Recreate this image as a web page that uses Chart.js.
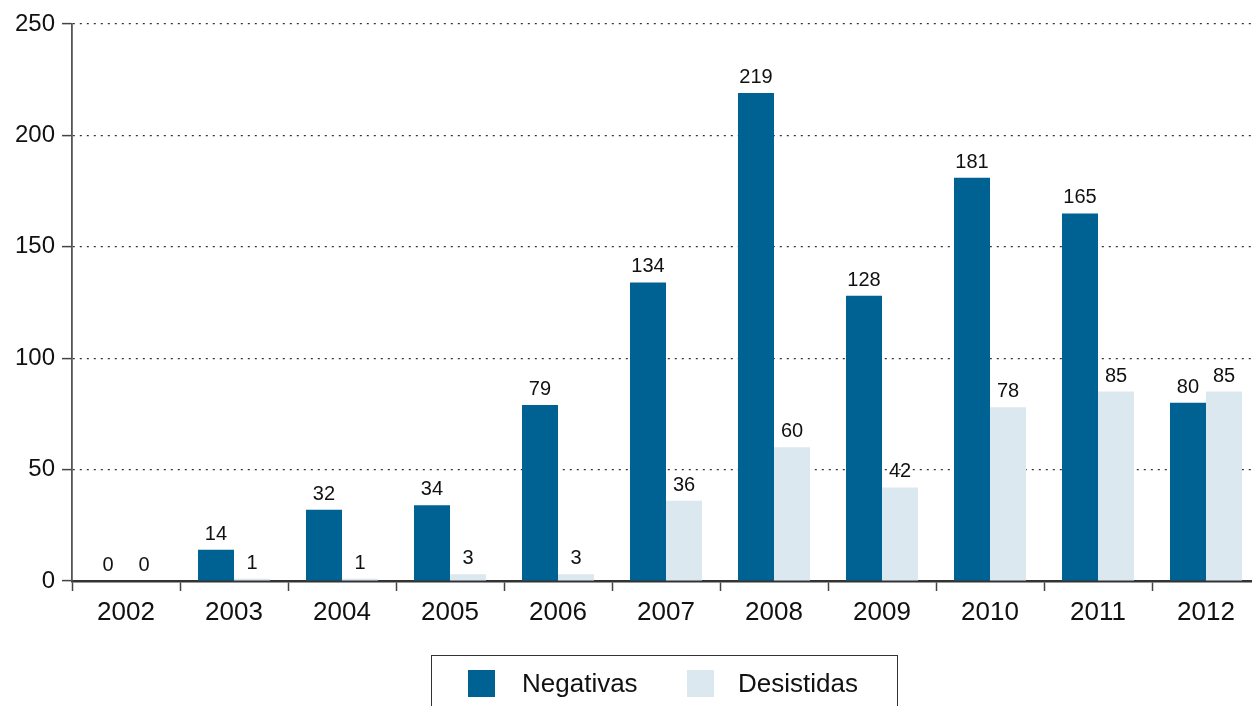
<!DOCTYPE html>
<html lang="es">
<head>
<meta charset="utf-8">
<script src="https://cdn.jsdelivr.net/npm/chart.js@4.4.1/dist/chart.umd.min.js"></script>
<style>
  html, body { margin: 0; padding: 0; background: #fff; overflow: hidden; }
  #wrap { position: relative; width: 1252px; height: 706px; overflow: hidden; }
  #box { position: absolute; left: 0; top: 0; width: 1260px; height: 706px; }
  #legend {
    position: absolute; left: 431px; top: 655px; width: 467px; height: 70px;
    border: 1.5px solid #333; box-sizing: border-box;
    font-family: "Liberation Sans", Arial, sans-serif; font-size: 26px; color: #111;
  }
  .sw { position: absolute; top: 14px; width: 27px; height: 27px; }
  .lbl { position: absolute; top: 12px; line-height: 30px; }
</style>
</head>
<body>
<div id="wrap">
  <div id="box"><canvas id="chart" width="1260" height="706"></canvas></div>
  <div id="legend"></div>
</div>
<script>
// ─── Datos ─────────────────────────────────────────────
const YEARS       = ['2002','2003','2004','2005','2006','2007','2008','2009','2010','2011','2012'];
const NEGATIVAS   = [0, 14, 32, 34, 79, 134, 219, 128, 181, 165, 80];
const DESISTIDAS  = [0, 1, 1, 3, 3, 36, 60, 42, 78, 85, 85];
const SERIES      = ['Negativas', 'Desistidas'];

const COLORS = { dark: '#006292', light: '#dce8f0', axis: '#444', text: '#111' };
const FONT = "'Liberation Sans', Arial, sans-serif";

// ─── Etiquetas de valores sobre las barras ────────────
const valueLabels = {
  id: 'valueLabels',
  afterDatasetsDraw(chart) {
    const ctx = chart.ctx;
    ctx.save();
    ctx.font = `20px ${FONT}`;
    ctx.fillStyle = COLORS.text;
    ctx.textAlign = 'center';
    ctx.textBaseline = 'alphabetic';
    chart.data.datasets.forEach((ds, i) => {
      chart.getDatasetMeta(i).data.forEach((bar, j) => {
        ctx.fillText(String(ds.data[j]), bar.x, bar.y - 10);
      });
    });
    ctx.restore();
  }
};

new Chart(document.getElementById('chart'), {
  type: 'bar',
  data: {
    labels: YEARS,
    datasets: [
      { label: SERIES[0], data: NEGATIVAS, backgroundColor: COLORS.dark },
      { label: SERIES[1], data: DESISTIDAS, backgroundColor: COLORS.light },
    ]
  },
  options: {
    responsive: false,
    animation: false,
    devicePixelRatio: 1,
    layout: { padding: { top: 24, right: 0, bottom: 73, left: 0 } },
    categoryPercentage: 0.667,
    barPercentage: 1,
    plugins: { legend: { display: false }, tooltip: { enabled: false } },
    scales: {
      x: {
        afterFit: s => { s.height = 52; },
        grid: { offset: true, drawOnChartArea: false, tickLength: 10, tickColor: COLORS.axis, tickWidth: 1.5 },
        border: { color: '#333', width: 2.5 },
        ticks: { font: { family: FONT, size: 26 }, color: COLORS.text, padding: 6, autoSkip: false, maxRotation: 0 }
      },
      y: {
        min: 0, max: 250,
        afterFit: s => { s.width = 72; },
        grid: {
          color: ctx => ctx.tick && ctx.tick.value === 0 ? 'rgba(0,0,0,0)' : '#333',
          lineWidth: 1.2,
          tickLength: 10, tickColor: COLORS.axis, tickWidth: 1.5, tickBorderDash: []
        },
        border: { color: '#555', width: 1.8, dash: [2, 5] },
        ticks: { stepSize: 50, font: { family: FONT, size: 24 }, color: COLORS.text, padding: 7 }
      }
    }
  },
  plugins: [valueLabels]
});

// ─── Leyenda ────────────────────────────────────────────
const legend = document.getElementById('legend');
const legendPos = [{ sw: 36, lbl: 90 }, { sw: 255, lbl: 306 }];
SERIES.forEach((name, i) => {
  const sw = document.createElement('div');
  sw.className = 'sw';
  sw.style.left = legendPos[i].sw + 'px';
  sw.style.background = i === 0 ? COLORS.dark : COLORS.light;
  const lb = document.createElement('div');
  lb.className = 'lbl';
  lb.style.left = legendPos[i].lbl + 'px';
  lb.textContent = name;
  legend.appendChild(sw);
  legend.appendChild(lb);
});
</script>
</body>
</html>
